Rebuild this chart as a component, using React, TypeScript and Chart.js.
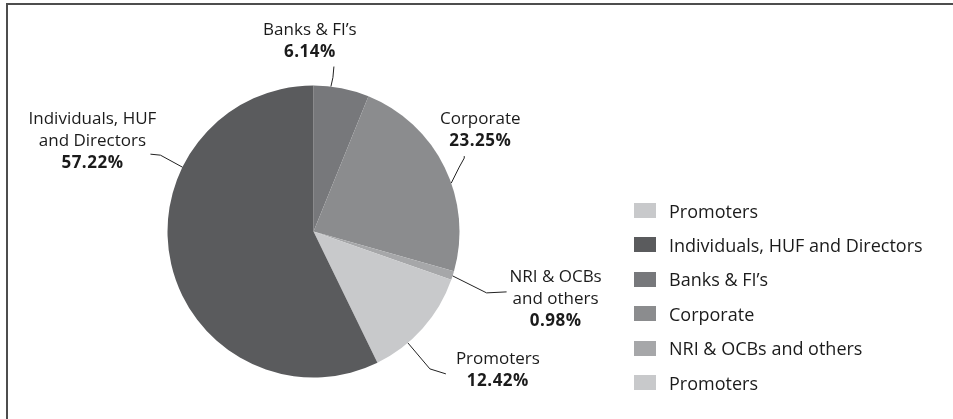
import { useEffect, useRef } from "react";
import { Chart, registerables } from "chart.js";

Chart.register(...registerables);

// ---- data ----
const categories = [
  "Banks & FI’s",
  "Corporate",
  "NRI & OCBs and others",
  "Promoters",
  "Individuals, HUF and Directors",
];
const shares = [6.14, 23.25, 0.98, 12.42, 57.22];
const sliceColors = ["#77787b", "#8b8c8e", "#a6a7a9", "#c8c9cb", "#5a5b5d"];
const legendLabels = [
  "Promoters",
  "Individuals, HUF and Directors",
  "Banks & FI’s",
  "Corporate",
  "NRI & OCBs and others",
  "Promoters",
];
const calloutNames = [
  ["Banks & FI’s"],
  ["Corporate"],
  ["NRI & OCBs", "and others"],
  ["Promoters"],
  ["Individuals, HUF", "and Directors"],
];

// ---- styling for callouts (relative to slice anchor point) ----
const calloutStyle = [
  { frac: 0.31, path: [[0, 0], [2, -9], [3, -20]], dx: -21, dy: -58 },
  { frac: 0.58, path: [[0, 0], [8, -16], [13, -25], [13, -27]], dx: 29, dy: -65 },
  { frac: 0.54, path: [[0, 0], [34, 17], [54, 16]], dx: 103, dy: 0 },
  { frac: 0.68, path: [[0, 0], [22, 26], [38, 31]], dx: 90, dy: 15.5 },
  { frac: 0.69, path: [[0, 0], [-22, -12], [-32, -13]], dx: -90, dy: -49.5 },
];

const FONT = "'Open Sans', 'DejaVu Sans', sans-serif";
const TEXT = "#1b1b1b";

const annotate = {
  id: "annotate",
  beforeDraw(chart: any) {
    const ctx = chart.ctx;
    ctx.save();
    ctx.fillStyle = "#ffffff";
    ctx.fillRect(0, 0, chart.width, chart.height);
    ctx.strokeStyle = "#4d4d4d";
    ctx.lineWidth = 2;
    ctx.beginPath();
    ctx.moveTo(7, chart.height);
    ctx.lineTo(7, 4);
    ctx.lineTo(chart.width, 4);
    ctx.stroke();
    ctx.restore();
  },
  afterDraw(chart: any) {
    const ctx = chart.ctx;
    const meta = chart.getDatasetMeta(0);
    ctx.save();
    meta.data.forEach((arc: any, i: number) => {
      const st = calloutStyle[i];
      const p = arc.getProps(["x", "y", "startAngle", "endAngle", "outerRadius"], true);
      const a = p.startAngle + st.frac * (p.endAngle - p.startAngle);
      const ax = p.x + p.outerRadius * Math.cos(a);
      const ay = p.y + p.outerRadius * Math.sin(a);
      ctx.strokeStyle = "#222";
      ctx.lineWidth = 1;
      ctx.beginPath();
      st.path.forEach(([ox, oy], k) => {
        if (k === 0) ctx.moveTo(ax + ox, ay + oy);
        else ctx.lineTo(ax + ox, ay + oy);
      });
      ctx.stroke();
      const cx = ax + st.dx;
      let y = ay + st.dy;
      ctx.fillStyle = TEXT;
      ctx.textAlign = "center";
      ctx.textBaseline = "alphabetic";
      ctx.font = `17px ${FONT}`;
      for (const line of calloutNames[i]) {
        ctx.fillText(line, cx, y + 6);
        y += 22;
      }
      ctx.font = `bold 17px ${FONT}`;
      (ctx as any).letterSpacing = "0.5px";
      ctx.fillText(shares[i].toFixed(2) + "%", cx, y + 6);
      (ctx as any).letterSpacing = "0px";
    });

    // legend
    ctx.textAlign = "left";
    ctx.font = `18px ${FONT}`;
    legendLabels.forEach((lab, k) => {
      const mid = 211 + k * 34.4;
      const idx = categories.findIndex((c) => c.startsWith(lab));
      ctx.fillStyle = sliceColors[idx];
      ctx.fillRect(634, Math.round(mid - 8), 22, 15);
      ctx.fillStyle = TEXT;
      ctx.fillText(lab, 669, mid + 6.5);
    });
    ctx.restore();
  },
};

export default function App() {
  const ref = useRef<HTMLCanvasElement | null>(null);
  useEffect(() => {
    document.body.style.margin = "0";
    const chart = new Chart(ref.current as HTMLCanvasElement, {
      type: "pie",
      data: {
        labels: categories,
        datasets: [
          {
            data: shares,
            backgroundColor: sliceColors,
            borderWidth: 0,
          },
        ],
      },
      options: {
        responsive: false,
        animation: false,
        layout: { padding: { left: 167.5, top: 85.5, right: 493.5, bottom: 41.5 } },
        plugins: {
          legend: { display: false },
          tooltip: { enabled: false },
        },
      },
      plugins: [annotate],
    });
    return () => chart.destroy();
  }, []);
  return (
    <div style={{ position: "fixed", left: 0, top: 0, width: 953, height: 419 }}>
      <canvas ref={ref} width={953} height={419} style={{ width: 953, height: 419 }} />
    </div>
  );
}
